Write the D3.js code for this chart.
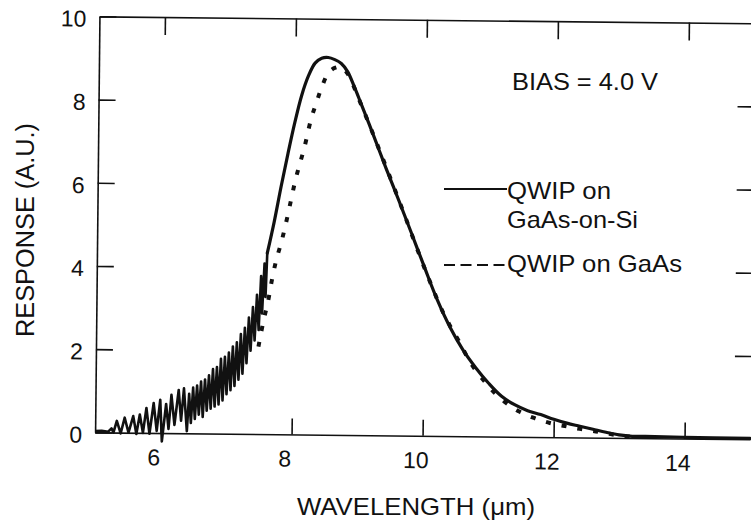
<!DOCTYPE html>
<html>
<head>
<meta charset="utf-8">
<script src="https://cdn.jsdelivr.net/npm/d3@7"></script>
<style>
  body { margin: 0; background: #fff; }
  svg { display: block; }
  text { font-family: "Liberation Sans", Arial, Helvetica, sans-serif; fill: #111; }
</style>
</head>
<body>
<svg id="chart" width="751" height="529"></svg>
<script>
// ---- data ----
const gaasOnSiWavelength = [
  5.00, 5.10, 5.20, 5.25, 5.28, 5.33, 5.39, 5.45, 5.51, 5.58, 5.63, 5.68, 5.73, 5.78, 5.83, 5.89,
  5.94, 5.99, 6.02, 6.08, 6.12, 6.16, 6.21, 6.27, 6.31, 6.35,
  6.40, 6.43, 6.46, 6.49, 6.52, 6.55, 6.58, 6.61, 6.64, 6.67, 6.70, 6.73, 6.76, 6.79, 6.82, 6.85,
  6.88, 6.91, 6.94, 6.97, 7.00, 7.03, 7.06, 7.09, 7.12, 7.15, 7.18, 7.21, 7.24, 7.27, 7.30, 7.33,
  7.36, 7.39, 7.42, 7.45, 7.48, 7.51, 7.53, 7.56, 7.58, 7.60,
  7.70, 7.80, 7.90, 8.00, 8.10, 8.20, 8.30, 8.40, 8.50, 8.60, 8.70, 8.80, 8.90, 9.00, 9.20, 9.40,
  9.60, 9.80, 10.00, 10.20, 10.40, 10.60, 10.80, 11.00, 11.20, 11.40, 11.60, 11.80, 12.00, 12.20,
  12.40, 12.60, 12.80, 13.00, 13.20, 13.40, 14.00, 15.00
];
const gaasOnSiResponse = [
  0.03, 0.04, 0.02, 0.10, 0.00, 0.28, -0.02, 0.36, 0.00, 0.40, -0.03, 0.44, 0.00, 0.60, -0.02, 0.72,
  0.05, 0.80, -0.20, 0.70, 0.10, 0.92, 0.20, 1.04, 0.30, 1.08,
  0.05, 0.95, 0.25, 1.10, 0.35, 1.15, 0.45, 1.25, 0.40, 1.30, 0.55, 1.40, 0.60, 1.55, 0.65, 1.60,
  0.70, 1.80, 0.80, 1.85, 0.95, 1.95, 1.05, 2.10, 1.15, 2.20, 1.30, 2.40, 1.45, 2.55, 1.70, 2.80,
  2.00, 3.05, 2.25, 3.35, 2.50, 3.80, 2.90, 4.10, 3.30, 4.35,
  5.10, 5.95, 6.75, 7.50, 8.15, 8.62, 8.93, 9.05, 9.07, 9.02, 8.93, 8.73, 8.38, 8.00, 7.22, 6.42,
  5.65, 4.86, 4.06, 3.28, 2.62, 2.08, 1.65, 1.28, 0.97, 0.77, 0.63, 0.54, 0.43, 0.34,
  0.27, 0.20, 0.13, 0.07, 0.04, 0.04, 0.03, 0.02
];
const gaasWavelength = [
  7.48, 7.55, 7.62, 7.68, 7.74, 7.81, 7.87, 7.95, 8.02, 8.09, 8.15, 8.25, 8.33, 8.40, 8.50, 8.60,
  8.70, 8.80, 8.91, 9.00, 9.11, 9.30, 9.50, 9.70, 9.90, 10.10, 10.29, 10.42, 10.54, 10.74, 10.95,
  11.10, 11.28, 11.48, 11.71, 11.94, 12.17, 12.42, 12.68, 12.90, 13.10, 13.30
];
const gaasResponse = [
  2.10, 2.70, 3.20, 3.75, 4.20, 4.60, 5.00, 5.60, 6.13, 6.55, 6.90, 7.60, 8.00, 8.33, 8.69, 8.82,
  8.84, 8.68, 8.32, 7.98, 7.57, 6.84, 6.06, 5.26, 4.44, 3.66, 2.98, 2.60, 2.28, 1.72, 1.30,
  1.04, 0.80, 0.60, 0.45, 0.34, 0.27, 0.20, 0.14, 0.08, 0.04, 0.02
];
const xTickValues = [6, 8, 10, 12, 14];
const yTickValues = [0, 2, 4, 6, 8, 10];
const rightTickValues = [2, 4, 6, 8];
const xTitle = "WAVELENGTH (\u03bcm)";
const yTitle = "RESPONSE (A.U.)";
const biasLabel = "BIAS = 4.0 V";
const legendSolid = ["QWIP on", "GaAs-on-Si"];
const legendDotted = "QWIP on GaAs";

// ---- layout ----
const W = 751, H = 529;
const plot = { left: 97.25, right: 752.25, top: 19.8, bottom: 435.8 };
const ink = "#111";

const x = d3.scaleLinear().domain([5, 15]).range([plot.left, plot.right]);
const y = d3.scaleLinear().domain([0, 10]).range([plot.bottom, plot.top]);

const svg = d3.select("#chart");
svg.append("rect").attr("width", W).attr("height", H).attr("fill", "#fff");

const cx = (plot.left + plot.right) / 2, cy = (plot.top + plot.bottom) / 2;
const g = svg.append("g").attr("transform", `rotate(0.6 ${cx} ${cy})`);

function styleAxis(sel) {
  sel.attr("font-family", "'Liberation Sans', Arial, sans-serif").attr("font-size", 23);
  sel.select(".domain").attr("stroke", ink).attr("stroke-width", 1.6);
  sel.selectAll(".tick line").attr("stroke", ink).attr("stroke-width", 1.6);
  sel.selectAll(".tick text").attr("fill", ink);
}

// bottom axis
const gB = g.append("g").attr("transform", `translate(0,${plot.bottom})`)
  .call(d3.axisBottom(x).tickValues(xTickValues).tickSizeInner(-16).tickSizeOuter(0)
    .tickPadding(16).tickFormat(d3.format("d")));
styleAxis(gB);
gB.selectAll(".tick text").attr("dx", -7);

// left axis
const gL = g.append("g").attr("transform", `translate(${plot.left},0)`)
  .call(d3.axisLeft(y).tickValues(yTickValues).tickSizeInner(-17).tickSizeOuter(0)
    .tickPadding(13).tickFormat(d3.format("d")));
styleAxis(gL);
gL.selectAll(".tick text").attr("dy", "0.43em");

// top axis (ticks only)
const gT = g.append("g").attr("transform", `translate(0,${plot.top})`)
  .call(d3.axisTop(x).tickValues(xTickValues).tickSizeInner(-18).tickSizeOuter(0).tickFormat(""));
styleAxis(gT);

// right axis (ticks only)
const gR = g.append("g").attr("transform", `translate(${plot.right + 4},0)`)
  .call(d3.axisRight(y).tickValues(rightTickValues).tickSizeInner(-20).tickSizeOuter(0).tickFormat(""));
styleAxis(gR);

// curves
const solidPts = d3.zip(gaasOnSiWavelength, gaasOnSiResponse);
const noisePts = solidPts.filter(p => p[0] <= 7.6);
const smoothPts = solidPts.filter(p => p[0] >= 7.6);
const dottedPts = d3.zip(gaasWavelength, gaasResponse);

const lineLinear = d3.line().x(d => x(d[0])).y(d => y(d[1]));
const lineSmooth = d3.line().curve(d3.curveCatmullRom.alpha(0.5)).x(d => x(d[0])).y(d => y(d[1]));

g.append("path").datum(dottedPts).attr("d", lineSmooth)
  .attr("fill", "none").attr("stroke", ink).attr("stroke-width", 4)
  .attr("stroke-dasharray", "5,11");

g.append("path").datum(noisePts).attr("d", lineLinear)
  .attr("fill", "none").attr("stroke", ink).attr("stroke-width", 2.6)
  .attr("stroke-linejoin", "round");

g.append("path").datum(smoothPts).attr("d", lineSmooth)
  .attr("fill", "none").attr("stroke", ink).attr("stroke-width", 3.2)
  .attr("stroke-linejoin", "round").attr("stroke-linecap", "round");

// annotations
function label(txt, xx, yy, len, size, anchor) {
  return svg.append("text").attr("x", xx).attr("y", yy).attr("font-size", size || 24)
    .attr("text-anchor", anchor || "start")
    .attr("textLength", len).attr("lengthAdjust", "spacingAndGlyphs").text(txt);
}
label(biasLabel, 512, 90, 146);
label(legendSolid[0], 507, 199, 104);
label(legendSolid[1], 507, 228, 131);
label(legendDotted, 507, 272, 175);

svg.append("line").attr("x1", 444).attr("x2", 507).attr("y1", 189).attr("y2", 189)
  .attr("stroke", ink).attr("stroke-width", 2);
svg.append("line").attr("x1", 444).attr("x2", 507).attr("y1", 265).attr("y2", 265)
  .attr("stroke", ink).attr("stroke-width", 2).attr("stroke-dasharray", "11,5.5");

label(xTitle, 416, 515, 238, 24, "middle");
svg.append("text").attr("transform", "translate(34,230) rotate(-90) scale(1,1.1)")
  .attr("font-size", 24).attr("text-anchor", "middle")
  .attr("textLength", 214).attr("lengthAdjust", "spacingAndGlyphs").text(yTitle);
</script>
</body>
</html>
